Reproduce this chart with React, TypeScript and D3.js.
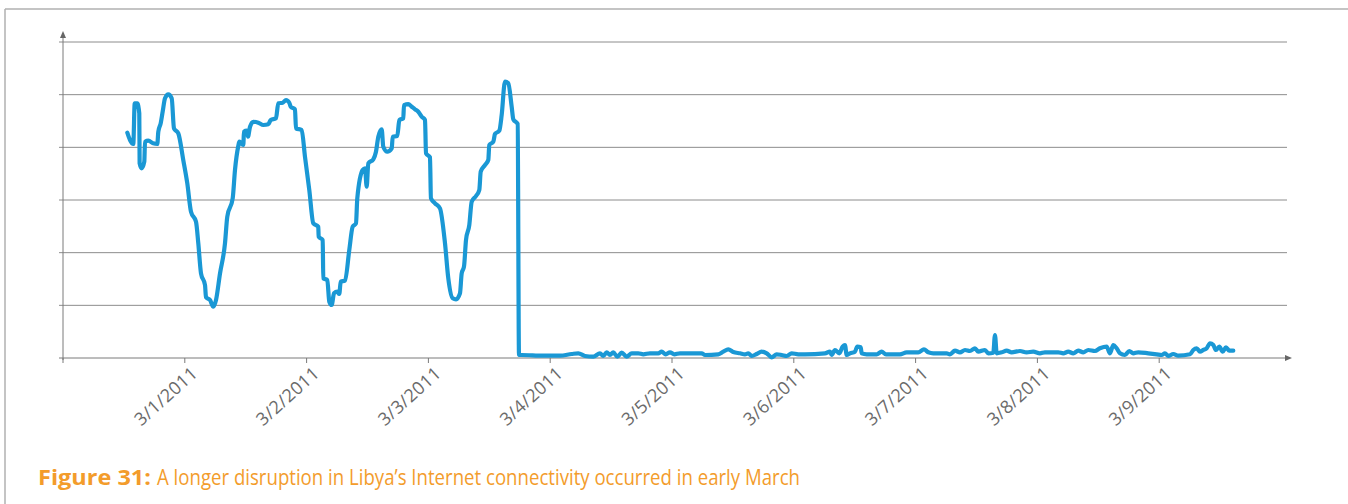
import React from "react";
import * as d3 from "d3";

// Hours since 2011-02-28 00:00
const hours: number[] = [
  12.67, 13.2, 13.85, 14.13, 14.64, 15.03, 15.1, 15.51, 16.02, 16.16, 16.81, 17.79, 18.58, 18.78, 19.25, 19.64,
  20.1, 20.75, 21.42, 21.87, 22.72, 23.7, 24.49, 25.22, 26.21, 26.66, 27.19, 27.98, 28.18, 28.97, 29.62, 30.15,
  30.94, 31.92, 32.37, 33.44, 33.89, 34.54, 34.74, 35.53, 35.66, 36.2, 36.45, 36.85, 37.5, 38.48, 39.47, 40.45,
  40.93, 41.97, 42.42, 43.29, 43.94, 44.59, 44.87, 45.71, 45.91, 47.03, 47.68, 48.53, 49.32, 50.3, 50.38, 51.17,
  51.29, 52.08, 52.47, 52.94, 53.4, 54.05, 54.44, 54.72, 55.57, 56.41, 57.08, 57.73, 57.99, 59.05, 59.51, 59.84,
  60.16, 61.14, 61.67, 62.13, 62.8, 63.11, 63.9, 64.77, 64.97, 65.87, 66.27, 67.05, 67.19, 68.04, 68.71, 69.36,
  70.01, 70.68, 71.33, 71.53, 72.31, 72.5, 73.3, 74.28, 75.27, 75.92, 76.79, 77.44, 78.22, 78.56, 79.01, 79.41,
  80.06, 80.53, 81.38, 82.03, 82.31, 83.15, 83.8, 84.0, 84.79, 85.12, 85.97, 86.44, 87.09, 87.74, 88.41, 88.73,
  89.59, 89.85,
  90.38, 94.64, 97.93, 100.23, 101.54, 102.86, 104.49, 105.81, 106.46, 107.13, 107.78, 108.43, 109.22, 110.09,
  111.07, 112.06, 113.36, 114.34, 115.66, 117.3, 117.97, 118.76, 119.6, 120.45, 121.57, 125.85, 126.5, 129.12,
  130.11, 131.09, 132.08, 133.4, 134.38, 135.03, 135.7, 136.69, 137.67, 138.66, 139.64, 140.63, 141.61, 142.6,
  143.58, 144.88, 146.2, 150.14, 151.13, 151.46, 152.11, 152.96, 153.63, 154.08, 154.42, 155.07, 156.05, 156.51,
  157.18, 157.37, 158.36, 160.33, 161.31, 162.16, 164.92, 166.24, 168.53, 169.65, 170.5, 171.48, 174.12, 174.77,
  175.76, 176.74, 177.73, 178.71, 179.7, 180.35, 181.67, 182.32, 183.31, 183.64, 183.98, 184.96, 185.95, 186.93,
  188.57, 189.89, 191.19, 192.51, 193.49, 196.11, 197.1, 198.08, 199.07, 200.05, 201.04, 202.02, 203.34, 204.33,
  205.65, 206.3, 206.95, 207.62, 208.27, 209.25, 210.1, 210.89, 211.87, 213.85, 215.5, 216.49, 217.14, 217.79,
  218.78, 219.76, 222.07, 222.72, 223.39, 224.04, 224.69, 225.36, 226.01, 226.66, 227.19, 227.84, 228.51, 229.16,
  229.81, 230.6,
];

const values: number[] = [
  427.8, 413.9, 406.3, 483.6, 483.6, 464.6, 369.7, 360.2, 372.7, 410.7, 412.6, 407.6, 406.3, 429.7, 445.6, 467.6,
  493.1, 500.7, 493.1, 436.1, 426.6, 375.9, 331.7, 277.8, 258.8, 217.8, 160.8, 138.6, 115.2, 110.1, 97.4, 110.1,
  160.8, 217.8, 268.3, 303.2, 356.9, 402.5, 410.7, 404.4, 429.7, 431.6, 420.2, 439.1, 448.6, 446.7, 442.4, 443.7,
  451.9, 455.1, 483.6, 484.7, 489.8, 484.7, 477.1, 472.2, 436.1, 432.9, 382.2, 319.0, 255.7, 249.3, 230.3, 224.0,
  151.3, 148.1, 106.9, 100.6, 122.8, 125.9, 121.5, 144.9, 146.8, 205.0, 249.3, 255.7, 303.2, 356.9, 360.2, 325.2,
  369.7, 377.3, 391.7, 420.2, 434.2, 401.2, 391.7, 398.1, 420.2, 421.5, 451.9, 455.1, 480.3, 482.2, 477.1, 472.2,
  467.6, 458.1, 451.9, 388.6, 381.1, 303.2, 293.7, 284.2, 217.8, 151.3, 113.3, 111.4, 122.8, 160.8, 173.3, 224.0,
  252.5, 296.8, 307.6, 319.0, 353.7, 366.4, 375.9, 404.4, 410.7, 425.3, 431.6, 461.4, 524.6, 521.5, 477.1, 453.2,
  444.3, 5.7,
  5.7, 4.4, 4.4, 7.6, 8.9, 3.8, 2.5, 8.9, 3.8, 10.8, 5.7, 10.8, 2.5, 10.1,
  2.5, 8.9, 8.9, 7.0, 8.9, 8.9, 12.0, 7.0, 10.8, 7.0, 8.9, 8.9, 5.7, 7.0,
  12.0, 16.5, 11.4, 8.9, 7.0, 8.9, 3.8, 7.6, 12.0, 8.9, 1.3, 7.0, 5.7, 3.8,
  8.9, 7.0, 7.0, 8.9, 12.0, 5.7, 15.2, 8.9, 21.5, 24.7, 5.7, 8.9, 12.0, 21.5,
  20.3, 8.9, 7.0, 7.0, 12.0, 7.0, 7.0, 10.8, 10.8, 16.5, 10.8, 8.9, 8.9, 7.0,
  13.9, 10.8, 15.2, 13.3, 18.4, 12.0, 15.2, 8.9, 10.1, 43.7, 8.9, 10.8, 13.9, 10.8,
  13.3, 10.8, 12.0, 8.9, 10.8, 10.8, 8.9, 12.0, 8.9, 13.9, 10.8, 15.2, 13.3, 18.4,
  21.5, 8.9, 24.7, 18.4, 8.9, 5.7, 13.3, 8.9, 10.8, 8.9, 7.0, 5.7, 8.9, 3.8,
  7.6, 4.4, 7.0, 15.2, 18.4, 12.0, 15.2, 18.4, 27.9, 24.7, 15.2, 21.5, 12.0, 20.3,
  13.9, 13.9,
];

const gridValues: number[] = [100, 200, 300, 400, 500, 600];
const tickDays: string[] = ["2011-02-28", "2011-03-01", "2011-03-02", "2011-03-03", "2011-03-04", "2011-03-05", "2011-03-06", "2011-03-07", "2011-03-08", "2011-03-09"];
const captionBold = "Figure 31:";
const captionText = "A longer disruption in Libya\u2019s Internet connectivity occurred in early March";

const W = 1348;
const H = 504;
const start = new Date(2011, 1, 28);
const end = new Date(2011, 2, 10);

export default function App() {
  const x = d3.scaleTime().domain([start, end]).range([63, 1281]);
  const y = d3.scaleLinear().domain([0, 600]).range([358, 42]);
  const parse = d3.timeParse("%Y-%m-%d");
  const fmt = d3.timeFormat("%-m/%-d/%Y");
  const pts = hours.map((h, i) => ({ t: start.getTime() + h * 3600000, v: values[i] }));
  const line = d3
    .line<{ t: number; v: number }>()
    .x((d) => x(new Date(d.t)))
    .y((d) => y(d.v))
    .curve(d3.curveMonotoneX);
  const ticks = tickDays.map((s) => parse(s) as Date);
  const x0 = x(start);
  const y0 = y(0);
  const axisColor = "#7a7a7a";
  const gridColor = "#8c8c8c";
  const orange = "#f39c2b";
  return (
    <svg width={W} height={H} style={{ position: "absolute", left: 0, top: 0, background: "#fff" }}>
      {/* frame */}
      <line x1={5} y1={9} x2={W} y2={9} stroke="#b0b0b0" strokeWidth={1.5} />
      <line x1={5} y1={9} x2={5} y2={H} stroke="#b0b0b0" strokeWidth={1.5} />
      {/* grid */}
      {gridValues.map((g) => (
        <line key={g} x1={59} x2={1287} y1={y(g)} y2={y(g)} stroke={gridColor} strokeWidth={1} />
      ))}
      {/* y axis */}
      <line x1={x0} x2={x0} y1={y0 + 2} y2={36} stroke={axisColor} strokeWidth={1} />
      <path d={`M${x0 - 3},${38} L${x0},${31} L${x0 + 3},${38} Z`} fill="#666" />
      {/* x axis */}
      <line x1={59} x2={1287} y1={y0} y2={y0} stroke={axisColor} strokeWidth={1} />
      <path d={`M${1285},${y0 - 3} L${1292},${y0} L${1285},${y0 + 3} Z`} fill="#666" />
      {ticks.map((d, i) => (
        <line key={i} x1={x(d)} x2={x(d)} y1={y0} y2={y0 + 5} stroke={axisColor} strokeWidth={1} />
      ))}
      {ticks.slice(1).map((d, i) => (
        <text
          key={i}
          transform={`translate(${x(d) + 14},${y0 + 17}) rotate(-42)`}
          textAnchor="end"
          fontFamily="'Open Sans', sans-serif"
          fontSize={18}
          letterSpacing={0.3}
          fill="#6a6a6a"
        >
          {fmt(d)}
        </text>
      ))}
      {/* data line */}
      <path d={line(pts) || ""} fill="none" stroke="#1a98d5" strokeWidth={4.2} strokeLinejoin="round" strokeLinecap="round" />
      {/* caption */}
      <text x={38} y={485} fontFamily="'Open Sans', sans-serif" fontSize={22} fontWeight="bold" fill={orange} textLength={113} lengthAdjust="spacingAndGlyphs">
        {captionBold}
      </text>
      <text x={157} y={485} fontFamily="'Open Sans', sans-serif" fontSize={22} fill={orange} textLength={643} lengthAdjust="spacingAndGlyphs">
        {captionText}
      </text>
    </svg>
  );
}
